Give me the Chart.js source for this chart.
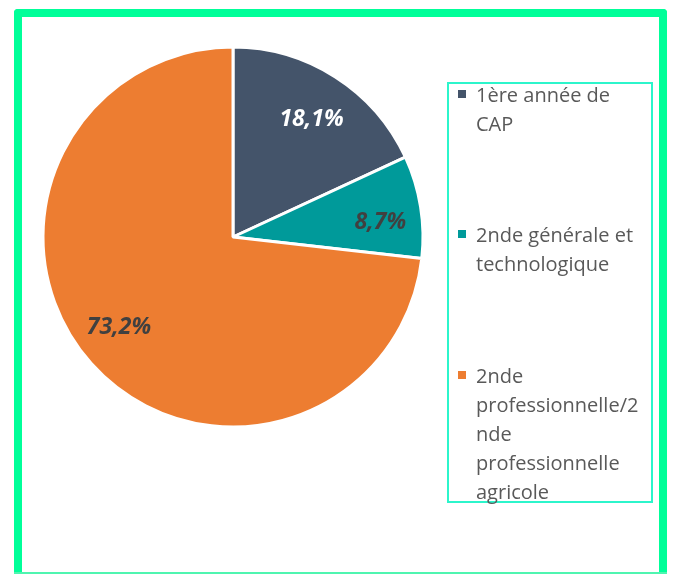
<!DOCTYPE html>
<html>
<head>
<meta charset="utf-8">
<script src="https://cdn.jsdelivr.net/npm/chart.js@4.4.1/dist/chart.umd.min.js"></script>
<style>
  html, body { margin: 0; padding: 0; background: #fff; width: 673px; height: 574px; overflow: hidden; }
  #frame { position: absolute; left: 14px; top: 9px; width: 637px; height: 570px; border: 8px solid #00FF99; border-bottom-width: 0; border-radius: 4px 4px 0 0; box-sizing: content-box; }
  #bottomline { position: absolute; left: 14px; top: 572px; width: 653px; height: 2px; background: #4FF5B0; }
  #wrap { position: absolute; left: 0; top: 0; width: 466px; height: 474px; }
  #legend { position: absolute; left: 447px; top: 82px; width: 202px; height: 417px; border: 2px solid #2CF5CB; font-family: "Open Sans", sans-serif; font-size: 20px; color: #595959; }
  .item { position: absolute; left: 0; }
  .sw { position: absolute; left: 9px; width: 8px; height: 8px; }
  .txt { position: absolute; left: 27px; line-height: 29px; white-space: nowrap; }
</style>
</head>
<body>
<div id="frame"></div>
<div id="bottomline"></div>
<div id="wrap"><canvas id="c"></canvas></div>
<div id="legend"></div>
<script>
const categories = ["1ère année de CAP", "2nde générale et technologique", "2nde professionnelle/2nde professionnelle agricole"];
const legendLines = [["1ère année de", "CAP"], ["2nde générale et", "technologique"], ["2nde", "professionnelle/2", "nde", "professionnelle", "agricole"]];
const values = [18.1, 8.7, 73.2];
const valueLabels = ["18,1%", "8,7%", "73,2%"];
const colors = ["#44546A", "#009A9A", "#ED7D31"];
const labelColors = ["#FFFFFF", "#404040", "#404040"];

const labelRadius = [0.753, 0.78, 0.76];
const labelAngleShift = [0.7, 2.8, 3.9];

const labelPlugin = {
  id: 'sliceLabels',
  afterDatasetsDraw(chart) {
    const ctx = chart.ctx;
    const meta = chart.getDatasetMeta(0);
    ctx.save();
    ctx.font = 'italic bold 23px "Open Sans", sans-serif';
    ctx.textAlign = 'center';
    ctx.textBaseline = 'middle';
    meta.data.forEach((arc, i) => {
      const p = arc.getProps(['x', 'y', 'startAngle', 'endAngle', 'outerRadius'], true);
      const mid = (p.startAngle + p.endAngle) / 2 + labelAngleShift[i] * Math.PI / 180;
      const r = p.outerRadius * labelRadius[i];
      ctx.fillStyle = labelColors[i];
      ctx.fillText(valueLabels[i], p.x + Math.cos(mid) * r, p.y + Math.sin(mid) * r + 2);
    });
    ctx.restore();
  }
};

new Chart(document.getElementById('c'), {
  type: 'pie',
  data: {
    labels: categories,
    datasets: [{
      data: values,
      backgroundColor: colors,
      borderColor: '#FFFFFF',
      borderWidth: 3
    }]
  },
  options: {
    responsive: true,
    maintainAspectRatio: false,
    animation: false,
    radius: 190,
    layout: { padding: 0 },
    plugins: { legend: { display: false }, tooltip: { enabled: false } }
  },
  plugins: [labelPlugin]
});

const lg = document.getElementById('legend');
const tops = [0, 140, 281];
categories.forEach((c, i) => {
  const item = document.createElement('div');
  item.className = 'item';
  item.style.top = tops[i] + 'px';
  const sw = document.createElement('div');
  sw.className = 'sw';
  sw.style.background = colors[i];
  sw.style.top = '6px';
  const t = document.createElement('div');
  t.className = 'txt';
  t.style.top = '-4px';
  t.innerHTML = legendLines[i].join('<br>');
  item.appendChild(sw);
  item.appendChild(t);
  lg.appendChild(item);
});
</script>
</body>
</html>
